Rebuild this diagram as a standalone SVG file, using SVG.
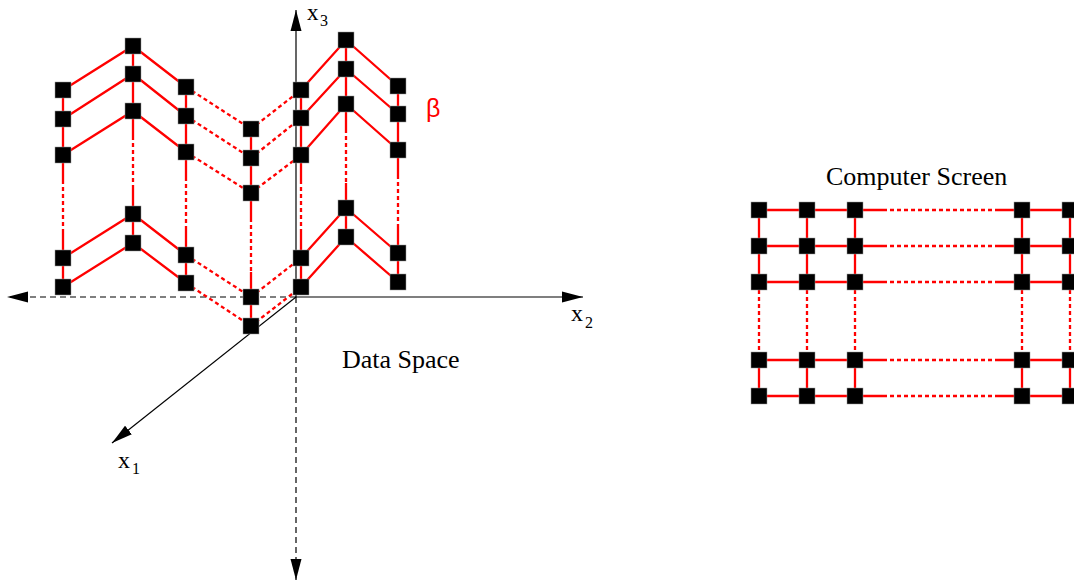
<svg xmlns="http://www.w3.org/2000/svg" width="1074" height="586" viewBox="0 0 1074 586">
<style>
.ax{stroke:#000;stroke-width:1.2;fill:none}
.axd{stroke:#000;stroke-width:1.2;fill:none;stroke-dasharray:6 4}
.r{stroke:#f00;stroke-width:2.3;fill:none}
.rd{stroke:#f00;stroke-width:2.3;fill:none;stroke-dasharray:4 3}
.sq{fill:#000;stroke:#999;stroke-width:0.5}
.t{font-family:"Liberation Serif","Times New Roman",serif;fill:#000}
</style>
<defs>
<marker id="ah" markerUnits="userSpaceOnUse" markerWidth="22" markerHeight="12" refX="21" refY="5.5" orient="auto" viewBox="0 0 22 11">
<path d="M0,0 L21,5.5 L0,11 z" fill="#000"/>
</marker>
<rect id="s" x="-8" y="-8" width="16" height="16" class="sq"/>
</defs>
<rect width="1074" height="586" fill="#fff"/>
<g id="axes">
<path class="ax" d="M296 297 V10" marker-end="url(#ah)"/>
<path class="ax" d="M296 297 H583" marker-end="url(#ah)"/>
<path class="axd" d="M296 297 H7" marker-end="url(#ah)"/>
<path class="axd" d="M296 297 V580" marker-end="url(#ah)"/>
<path class="ax" d="M296 297 L112 443" marker-end="url(#ah)"/>
</g>
<g id="connectors">
<polyline class="r" points="63,90 133,46 186,87"/>
<polyline class="rd" points="186,87 251,129 301,90"/>
<polyline class="r" points="301,90 346,40 398,86"/>
<polyline class="r" points="63,119 133,74 186,116"/>
<polyline class="rd" points="186,116 251,158 301,118"/>
<polyline class="r" points="301,118 346,69 398,114"/>
<polyline class="r" points="63,155 133,111 186,152"/>
<polyline class="rd" points="186,152 251,193 301,155"/>
<polyline class="r" points="301,155 346,104 398,150"/>
<polyline class="r" points="63,258 133,214 186,255"/>
<polyline class="rd" points="186,255 251,297 301,258"/>
<polyline class="r" points="301,258 346,208 398,253"/>
<polyline class="r" points="63,287 133,243 186,283"/>
<polyline class="rd" points="186,283 251,326 301,287"/>
<polyline class="r" points="301,287 346,237 398,282"/>
<path class="r" d="M63 90V180M63 233V287M133 46V136M133 189V243M186 87V177M186 230V283M251 129V218M251 272V326M301 90V180M301 233V287M346 40V129M346 183V237M398 86V175M398 228V282"/>
<path class="rd" d="M63 180V233M133 136V189M186 177V230M251 218V272M301 180V233M346 129V183M398 175V228"/>
<path class="r" d="M759 210H883M997 210H1074M759 246H883M997 246H1074M759 282H883M997 282H1074M759 360H883M997 360H1074M759 396H883M997 396H1074"/>
<path class="rd" d="M883 210H997M883 246H997M883 282H997M883 360H997M883 396H997"/>
<path class="r" d="M759 210V290M759 352V396M807 210V290M807 352V396M855 210V290M855 352V396M1022 210V290M1022 352V396M1070 210V290M1070 352V396"/>
<path class="rd" d="M759 290V352M807 290V352M855 290V352M1022 290V352M1070 290V352"/>
</g>
<g id="surface-nodes">
<g id="n1-1"><use href="#s" x="63" y="90"/></g>
<g id="n1-2"><use href="#s" x="63" y="119"/></g>
<g id="n1-3"><use href="#s" x="63" y="155"/></g>
<g id="n1-4"><use href="#s" x="63" y="258"/></g>
<g id="n1-5"><use href="#s" x="63" y="287"/></g>
<g id="n2-1"><use href="#s" x="133" y="46"/></g>
<g id="n2-2"><use href="#s" x="133" y="74"/></g>
<g id="n2-3"><use href="#s" x="133" y="111"/></g>
<g id="n2-4"><use href="#s" x="133" y="214"/></g>
<g id="n2-5"><use href="#s" x="133" y="243"/></g>
<g id="n3-1"><use href="#s" x="186" y="87"/></g>
<g id="n3-2"><use href="#s" x="186" y="116"/></g>
<g id="n3-3"><use href="#s" x="186" y="152"/></g>
<g id="n3-4"><use href="#s" x="186" y="255"/></g>
<g id="n3-5"><use href="#s" x="186" y="283"/></g>
<g id="n4-1"><use href="#s" x="251" y="129"/></g>
<g id="n4-2"><use href="#s" x="251" y="158"/></g>
<g id="n4-3"><use href="#s" x="251" y="193"/></g>
<g id="n4-4"><use href="#s" x="251" y="297"/></g>
<g id="n4-5"><use href="#s" x="251" y="326"/></g>
<g id="n5-1"><use href="#s" x="301" y="90"/></g>
<g id="n5-2"><use href="#s" x="301" y="118"/></g>
<g id="n5-3"><use href="#s" x="301" y="155"/></g>
<g id="n5-4"><use href="#s" x="301" y="258"/></g>
<g id="n5-5"><use href="#s" x="301" y="287"/></g>
<g id="n6-1"><use href="#s" x="346" y="40"/></g>
<g id="n6-2"><use href="#s" x="346" y="69"/></g>
<g id="n6-3"><use href="#s" x="346" y="104"/></g>
<g id="n6-4"><use href="#s" x="346" y="208"/></g>
<g id="n6-5"><use href="#s" x="346" y="237"/></g>
<g id="n7-1"><use href="#s" x="398" y="86"/></g>
<g id="n7-2"><use href="#s" x="398" y="114"/></g>
<g id="n7-3"><use href="#s" x="398" y="150"/></g>
<g id="n7-4"><use href="#s" x="398" y="253"/></g>
<g id="n7-5"><use href="#s" x="398" y="282"/></g>
</g>
<g id="screen-nodes">
<g id="p1-1"><use href="#s" x="759" y="210"/></g>
<g id="p2-1"><use href="#s" x="807" y="210"/></g>
<g id="p3-1"><use href="#s" x="855" y="210"/></g>
<g id="p4-1"><use href="#s" x="1022" y="210"/></g>
<g id="p5-1"><use href="#s" x="1070" y="210"/></g>
<g id="p1-2"><use href="#s" x="759" y="246"/></g>
<g id="p2-2"><use href="#s" x="807" y="246"/></g>
<g id="p3-2"><use href="#s" x="855" y="246"/></g>
<g id="p4-2"><use href="#s" x="1022" y="246"/></g>
<g id="p5-2"><use href="#s" x="1070" y="246"/></g>
<g id="p1-3"><use href="#s" x="759" y="282"/></g>
<g id="p2-3"><use href="#s" x="807" y="282"/></g>
<g id="p3-3"><use href="#s" x="855" y="282"/></g>
<g id="p4-3"><use href="#s" x="1022" y="282"/></g>
<g id="p5-3"><use href="#s" x="1070" y="282"/></g>
<g id="p1-4"><use href="#s" x="759" y="360"/></g>
<g id="p2-4"><use href="#s" x="807" y="360"/></g>
<g id="p3-4"><use href="#s" x="855" y="360"/></g>
<g id="p4-4"><use href="#s" x="1022" y="360"/></g>
<g id="p5-4"><use href="#s" x="1070" y="360"/></g>
<g id="p1-5"><use href="#s" x="759" y="396"/></g>
<g id="p2-5"><use href="#s" x="807" y="396"/></g>
<g id="p3-5"><use href="#s" x="855" y="396"/></g>
<g id="p4-5"><use href="#s" x="1022" y="396"/></g>
<g id="p5-5"><use href="#s" x="1070" y="396"/></g>
</g>
<g id="labels">
<text class="t" x="307" y="20" font-size="23">x</text><text class="t" x="320" y="26" font-size="16">3</text>
<text class="t" x="571" y="321" font-size="24">x</text><text class="t" x="585" y="328" font-size="16">2</text>
<text class="t" x="118" y="468" font-size="24">x</text><text class="t" x="132" y="474" font-size="16">1</text>
<text x="426" y="117" font-size="25" style="fill:#f00;font-family:'Liberation Sans',Arial,sans-serif">β</text>
<text class="t" x="342" y="368" font-size="26">Data Space</text>
<text class="t" x="826" y="185" font-size="26">Computer Screen</text>
</g>
</svg>
